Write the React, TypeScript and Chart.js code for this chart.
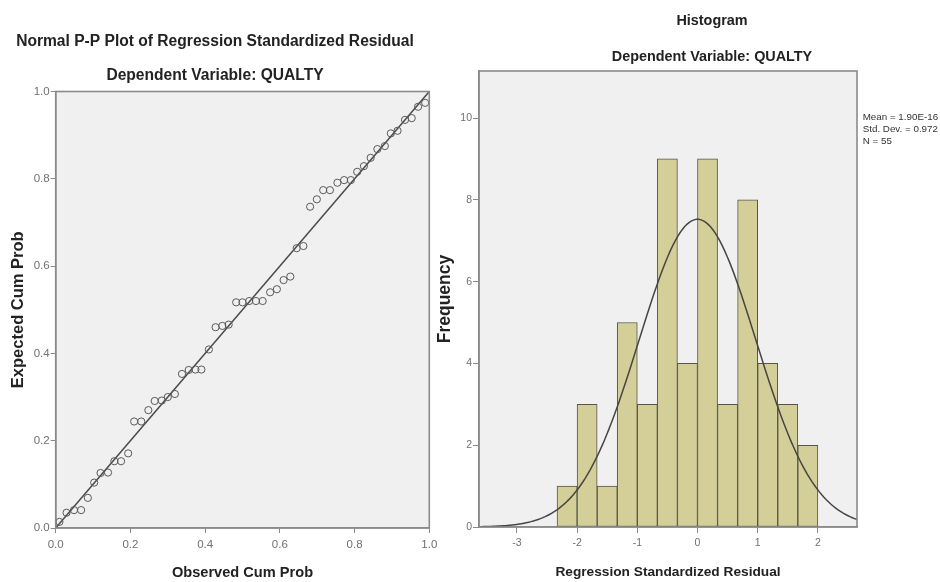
import React, { useEffect, useRef } from 'react';
import { Chart, registerables } from 'chart.js';

Chart.register(...registerables);

// ---------- P-P plot data ----------
const PP_OBSERVED = [
  0.010, 0.029, 0.049, 0.068, 0.086, 0.103, 0.120, 0.140, 0.157, 0.175,
  0.194, 0.210, 0.229, 0.248, 0.265, 0.284, 0.300, 0.319, 0.338, 0.356,
  0.374, 0.390, 0.410, 0.428, 0.446, 0.463, 0.483, 0.500, 0.518, 0.536,
  0.554, 0.574, 0.592, 0.610, 0.628, 0.645, 0.663, 0.681, 0.699, 0.716,
  0.734, 0.754, 0.772, 0.790, 0.807, 0.825, 0.843, 0.861, 0.881, 0.897,
  0.915, 0.935, 0.953, 0.970, 0.989,
];
const PP_EXPECTED = [
  0.014, 0.035, 0.041, 0.041, 0.069, 0.104, 0.126, 0.127, 0.153, 0.153,
  0.171, 0.244, 0.244, 0.270, 0.291, 0.292, 0.300, 0.307, 0.353, 0.362,
  0.363, 0.363, 0.409, 0.460, 0.463, 0.466, 0.517, 0.517, 0.520, 0.520,
  0.520, 0.540, 0.547, 0.568, 0.576, 0.641, 0.646, 0.736, 0.753, 0.774,
  0.774, 0.791, 0.797, 0.797, 0.816, 0.829, 0.848, 0.868, 0.875, 0.904,
  0.910, 0.935, 0.939, 0.965, 0.974,
];
const PP_REF_X = [0, 1];
const PP_REF_Y = [0, 1];

// ---------- Histogram data ----------
const HIST_BIN_CENTERS = [
  -2.1667, -1.8333, -1.5, -1.1667, -0.8333, -0.5, -0.1667,
  0.1667, 0.5, 0.8333, 1.1667, 1.5, 1.8333,
];
const HIST_COUNTS = [1, 3, 1, 5, 3, 9, 4, 9, 3, 8, 4, 3, 2];
const HIST_MEAN = 1.9e-16;
const HIST_SD = 0.972;
const HIST_N = 55;
const HIST_BIN_WIDTH = 0.3333;
const HIST_X_MIN = -3.63;
const HIST_X_MAX = 2.65;
const HIST_STATS = ['Mean = 1.90E-16', 'Std. Dev. = 0.972', 'N = 55'];

const FONT = "'Liberation Sans', Arial, Helvetica, sans-serif";
const TITLE_COLOR = '#222';
const TICK_COLOR = '#707070';
const AXIS_COLOR = '#8a8a8a';

// Fitted normal curve drawn from the displayed statistics (Mean, Std. Dev., N)
function normalCurve() {
  const pts: { x: number; y: number }[] = [];
  const scale = (HIST_N * HIST_BIN_WIDTH) / (HIST_SD * Math.sqrt(2 * Math.PI));
  const steps = 160;
  for (let i = 0; i <= steps; i++) {
    const x = HIST_X_MIN + ((HIST_X_MAX - HIST_X_MIN) * i) / steps;
    const z = (x - HIST_MEAN) / HIST_SD;
    pts.push({ x, y: scale * Math.exp(-0.5 * z * z) });
  }
  return pts;
}

type TextItem = { text: string; x: number; y: number; font: string; color: string; align: CanvasTextAlign };

function makeTextPlugin(items: TextItem[]) {
  return {
    id: 'staticText',
    afterDraw(chart: any) {
      const ctx = chart.ctx as CanvasRenderingContext2D;
      for (const t of items) {
        ctx.save();
        ctx.font = t.font;
        ctx.fillStyle = t.color;
        ctx.textAlign = t.align;
        ctx.textBaseline = 'middle';
        ctx.fillText(t.text, t.x, t.y);
        ctx.restore();
      }
    },
  };
}

const framePlugin = {
  id: 'plotFrame',
  beforeDraw(chart: any) {
    const { ctx, chartArea } = chart;
    const { left, top, right, bottom } = chartArea;
    ctx.save();
    ctx.fillStyle = '#f0f0f0';
    ctx.fillRect(left, top, right - left, bottom - top);
    ctx.restore();
  },
  afterDatasetsDraw(chart: any) {
    const { ctx, chartArea } = chart;
    const { left, top, right, bottom } = chartArea;
    ctx.save();
    ctx.strokeStyle = AXIS_COLOR;
    ctx.lineWidth = 1.6;
    ctx.strokeRect(left, top, right - left, bottom - top);
    ctx.restore();
  },
};

function PPPlot() {
  const ref = useRef<HTMLCanvasElement>(null);
  useEffect(() => {
    if (!ref.current) return;
    const points = PP_OBSERVED.map((x, i) => ({ x, y: PP_EXPECTED[i] }));
    const refLine = PP_REF_X.map((x, i) => ({ x, y: PP_REF_Y[i] }));
    const chart = new Chart(ref.current, {
      type: 'scatter',
      data: {
        datasets: [
          {
            type: 'line',
            data: refLine,
            borderColor: '#4a4a4a',
            borderWidth: 1.5,
            pointRadius: 0,
            fill: false,
            order: 1,
          } as any,
          {
            data: points,
            pointRadius: 3.6,
            pointBorderWidth: 1,
            borderColor: '#5a5a5a',
            backgroundColor: 'rgba(0,0,0,0)',
            order: 0,
          },
        ],
      },
      options: {
        animation: false,
        responsive: false,
        layout: { padding: { top: 91.5, right: 15.7, bottom: 0, left: 0 } },
        plugins: { legend: { display: false }, tooltip: { enabled: false } },
        scales: {
          x: {
            type: 'linear',
            min: 0,
            max: 1,
            ticks: {
              stepSize: 0.2,
              callback: (v: any) => Number(v).toFixed(1),
              font: { family: FONT, size: 11.5 },
              color: TICK_COLOR,
              padding: 5,
            },
            grid: { drawOnChartArea: false, tickLength: 5, color: AXIS_COLOR },
            border: { color: AXIS_COLOR, width: 1.5 },
            title: {
              display: true,
              text: 'Observed Cum Prob',
              font: { family: FONT, size: 14.6, weight: 'bold' },
              color: TITLE_COLOR,
              padding: { top: 0, bottom: 0 },
            },
            afterFit: (s: any) => { s.height = 54; },
          },
          y: {
            type: 'linear',
            min: 0,
            max: 1,
            ticks: {
              stepSize: 0.2,
              callback: (v: any) => Number(v).toFixed(1),
              font: { family: FONT, size: 11.5 },
              color: TICK_COLOR,
              padding: 1,
            },
            grid: { drawOnChartArea: false, tickLength: 5, color: AXIS_COLOR },
            border: { color: AXIS_COLOR, width: 1.5 },
            title: {
              display: true,
              text: 'Expected Cum Prob',
              font: { family: FONT, size: 16.5, weight: 'bold' },
              color: TITLE_COLOR,
              padding: { top: 8.4, bottom: 0 },
            },
            afterFit: (s: any) => { s.width = 55.7; },
          },
        },
      },
      plugins: [
        framePlugin,
        makeTextPlugin([
          { text: 'Normal P-P Plot of Regression Standardized Residual', x: 215, y: 42, font: `bold 15.6px ${FONT}`, color: TITLE_COLOR, align: 'center' },
          { text: 'Dependent Variable: QUALTY', x: 215, y: 76, font: `bold 15.6px ${FONT}`, color: TITLE_COLOR, align: 'center' },
        ]),
      ],
    } as any);
    return () => chart.destroy();
  }, []);
  return (
    <canvas
      ref={ref}
      width={445}
      height={582}
      style={{ position: 'absolute', left: 0, top: 0, width: 445, height: 582 }}
    />
  );
}

function HistogramChart() {
  const ref = useRef<HTMLCanvasElement>(null);
  useEffect(() => {
    if (!ref.current) return;
    const bars = HIST_BIN_CENTERS.map((x, i) => ({ x, y: HIST_COUNTS[i] }));
    const chart = new Chart(ref.current, {
      type: 'bar',
      data: {
        datasets: [
          {
            type: 'line',
            data: normalCurve(),
            borderColor: '#454545',
            borderWidth: 1.5,
            pointRadius: 0,
            fill: false,
            order: 0,
          } as any,
          {
            type: 'bar',
            data: bars,
            backgroundColor: '#d4cf98',
            borderColor: '#55554a',
            borderWidth: 1,
            borderSkipped: false,
            barPercentage: 1,
            categoryPercentage: 1,
            order: 1,
          } as any,
        ],
      },
      options: {
        animation: false,
        responsive: false,
        layout: { padding: { top: 71, right: 83, bottom: 0, left: 0 } },
        plugins: { legend: { display: false }, tooltip: { enabled: false } },
        scales: {
          x: {
            type: 'linear',
            min: HIST_X_MIN,
            max: HIST_X_MAX,
            offset: false,
            ticks: {
              stepSize: 1,
              includeBounds: false,
              font: { family: FONT, size: 10.5 },
              color: TICK_COLOR,
              padding: 4,
            },
            grid: { drawOnChartArea: false, offset: false, tickLength: 6, color: AXIS_COLOR },
            border: { color: AXIS_COLOR, width: 1.5 },
            title: {
              display: true,
              text: 'Regression Standardized Residual',
              font: { family: FONT, size: 13.7, weight: 'bold' },
              color: TITLE_COLOR,
              padding: { top: 0, bottom: 2 },
            },
            afterFit: (s: any) => { s.height = 55; },
          },
          y: {
            type: 'linear',
            min: 0,
            max: 11.15,
            ticks: {
              stepSize: 2,
              includeBounds: false,
              font: { family: FONT, size: 10.5 },
              color: TICK_COLOR,
              padding: 1,
            },
            grid: { drawOnChartArea: false, tickLength: 6, color: AXIS_COLOR },
            border: { color: AXIS_COLOR, width: 1.5 },
            title: {
              display: true,
              text: 'Frequency',
              font: { family: FONT, size: 17.5, weight: 'bold' },
              color: TITLE_COLOR,
              padding: { top: 2.5, bottom: 0 },
            },
            afterFit: (s: any) => { s.width = 47; },
          },
        },
      },
      plugins: [
        framePlugin,
        makeTextPlugin([
          { text: 'Histogram', x: 280, y: 20.7, font: `bold 14.4px ${FONT}`, color: TITLE_COLOR, align: 'center' },
          { text: 'Dependent Variable: QUALTY', x: 280, y: 57.3, font: `bold 14.4px ${FONT}`, color: TITLE_COLOR, align: 'center' },
          ...HIST_STATS.map((t, i) => ({
            text: t,
            x: 430.7,
            y: 117.3 + i * 12.2,
            font: `9.8px ${FONT}`,
            color: '#333',
            align: 'left' as CanvasTextAlign,
          })),
        ]),
      ],
    } as any);
    return () => chart.destroy();
  }, []);
  return (
    <canvas
      ref={ref}
      width={508}
      height={582}
      style={{ position: 'absolute', left: 432, top: 0, width: 508, height: 582 }}
    />
  );
}

export default function App() {
  return (
    <div style={{ position: 'absolute', left: 0, top: 0, width: 940, height: 582, background: '#fff', overflow: 'hidden' }}>
      <PPPlot />
      <HistogramChart />
    </div>
  );
}
